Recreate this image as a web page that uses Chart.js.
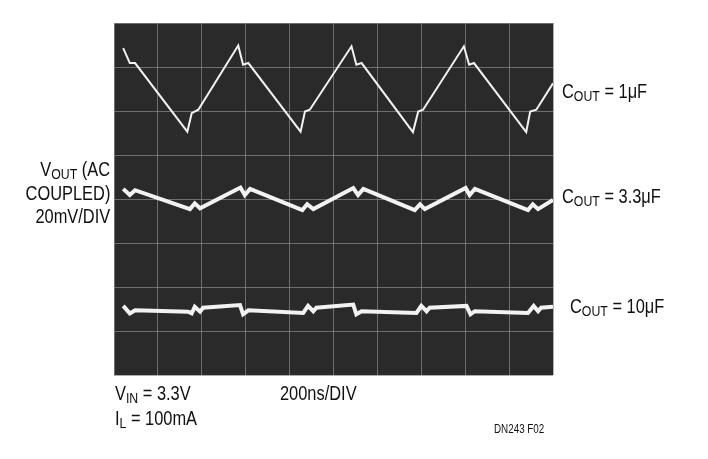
<!DOCTYPE html>
<html><head><meta charset="utf-8">
<script src="https://cdn.jsdelivr.net/npm/chart.js@4"></script>
<style>
body{margin:0;background:#fff;width:708px;height:459px;position:relative;overflow:hidden;font-family:"Liberation Sans",Arial,sans-serif;}
canvas{position:absolute;left:0;top:0}
.t{position:absolute;font-size:20px;color:#111;transform:scaleX(0.82);transform-origin:left top;white-space:nowrap;line-height:22px}
.r{transform-origin:right top;text-align:right}
sub{font-size:15px;vertical-align:-3px}
</style></head><body>
<canvas id="c" width="708" height="459"></canvas>
<div class="t" style="left:562px;top:80px">C<sub>OUT</sub> = 1μF</div>
<div class="t" style="left:562px;top:185px">C<sub>OUT</sub> = 3.3μF</div>
<div class="t" style="left:570px;top:295px">C<sub>OUT</sub> = 10μF</div>
<div class="t r" style="right:598px;top:158px">V<sub>OUT</sub> (AC</div>
<div class="t r" style="right:598px;top:182px">COUPLED)</div>
<div class="t r" style="right:598px;top:205px">20mV/DIV</div>
<div class="t" style="left:115px;top:382px">V<sub>IN</sub> = 3.3V</div>
<div class="t" style="left:115px;top:407px">I<sub>L</sub> = 100mA</div>
<div class="t" style="left:280px;top:382px">200ns/DIV</div>
<div class="t" style="left:494px;top:418px;font-size:12px">DN243 F02</div>
<script>
const xTop=[0.21,0.36,0.48,1.67,1.77,1.92,2.83,2.94,3.06,4.25,4.35,4.46,5.41,5.52,5.64,6.81,6.93,7.04,7.97,8.09,8.2,9.39,9.48,9.62,10];
const yTop=[7.43,7.09,7.09,5.53,5.95,6.03,7.49,7.05,7.09,5.53,5.99,6.03,7.47,7.05,7.09,5.52,5.99,6.03,7.47,7.05,7.09,5.52,5.99,6.03,6.63];
const xMid=[0.21,0.36,0.48,1.73,1.84,1.96,2.88,2.98,3.1,4.29,4.4,4.54,5.45,5.56,5.68,6.85,6.97,7.08,8.01,8.1,8.22,9.43,9.54,9.66,10];
const yMid=[4.23,4.09,4.2,3.77,3.9,3.79,4.26,4.09,4.23,3.75,3.88,3.77,4.25,4.09,4.23,3.75,3.88,3.77,4.25,4.09,4.23,3.75,3.88,3.77,3.98];
const xBot=[0.21,0.36,0.48,1.69,1.77,1.84,1.96,2.03,2.87,2.94,3.06,4.31,4.42,4.54,4.61,5.45,5.52,5.64,6.89,7,7.12,7.19,8.03,8.12,8.22,9.43,9.56,9.66,9.73,10];
const yBot=[1.57,1.4,1.47,1.44,1.4,1.55,1.44,1.53,1.59,1.38,1.47,1.41,1.57,1.45,1.53,1.6,1.38,1.45,1.41,1.57,1.45,1.53,1.57,1.38,1.45,1.41,1.57,1.45,1.53,1.55];
const xTicks=[0,1,2,3,4,5,6,7,8,9,10];
const yTicks=[0,1,2,3,4,5,6,7,8];
const pts=(xs,ys)=>xs.map((x,i)=>({x,y:ys[i]}));
const bg={id:'bg',beforeDraw(c){const a=c.chartArea,g=c.ctx;g.save();g.fillStyle='#2a2a2a';g.fillRect(a.left,a.top,a.right-a.left,a.bottom-a.top);g.restore();}};
const ds=(d,w)=>({data:d,borderColor:'#f2f2f2',borderWidth:w,pointRadius:0,tension:0,fill:false});
new Chart(document.getElementById('c'),{type:'line',
data:{datasets:[ds(pts(xTop,yTop),2),ds(pts(xMid,yMid),4),ds(pts(xBot,yBot),4)]},
options:{responsive:false,animation:false,layout:{padding:{left:114,top:23,right:155,bottom:84}},
plugins:{legend:{display:false},tooltip:{enabled:false}},
scales:{x:{type:'linear',min:0,max:10,afterBuildTicks:s=>{s.ticks=xTicks.map(v=>({value:v}))},ticks:{display:false},border:{display:false},grid:{drawTicks:false,color:'rgba(140,140,140,0.7)'}},
y:{type:'linear',min:0,max:8,afterBuildTicks:s=>{s.ticks=yTicks.map(v=>({value:v}))},ticks:{display:false},border:{display:false},grid:{drawTicks:false,color:'rgba(140,140,140,0.7)'}}}},
plugins:[bg]});
</script></body></html>
